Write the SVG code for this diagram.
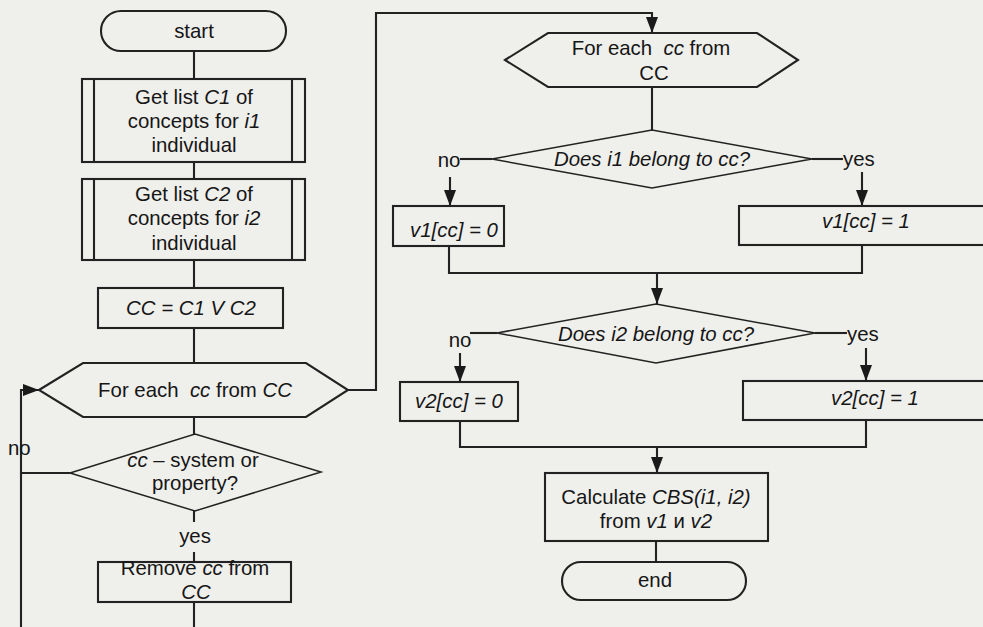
<svg xmlns="http://www.w3.org/2000/svg" width="983" height="627" viewBox="0 0 983 627">
<style>
.bg{fill:#efefec}
.box{fill:none;stroke:#222;stroke-width:2.1}
.dia{fill:none;stroke:#222;stroke-width:1.5}
.ln{fill:none;stroke:#222;stroke-width:2.1}
.arr{fill:none;stroke:#222;stroke-width:2.1;marker-end:url(#ah)}
text{font-family:"Liberation Sans",Arial,Helvetica,sans-serif;font-size:20.4px;fill:#161616;text-anchor:middle;white-space:pre}
.i{font-style:italic}
.l{text-anchor:start}
</style>
<defs>
<marker id="ah" markerUnits="userSpaceOnUse" markerWidth="16" markerHeight="14" viewBox="0 0 16 14" refX="16" refY="7" orient="auto">
<path d="M0,1 L16,7 L0,13 Z" fill="#1a1a1a"/>
</marker>
</defs>
<rect class="bg" x="0" y="0" width="983" height="627"/>

<g id="connectors">
<path class="ln" d="M194,51 V79"/>
<path class="ln" d="M194,162 V179"/>
<path class="ln" d="M194,260 V288"/>
<path class="ln" d="M194,328 V363"/>
<path class="ln" d="M194,417 V434"/>
<path class="ln" d="M194,511 V522"/>
<path class="ln" d="M194,552 V562"/>
<path class="ln" d="M194,602 V627"/>
<path class="ln" d="M70,473 H21"/>
<path class="arr" d="M21,627 V390 H39"/>
<path class="arr" d="M348,390 H376 V13 H652 V33"/>
<path class="ln" d="M652,87 V130"/>
<path class="ln" d="M460,159 H492"/>
<path class="ln" d="M812,159 H843"/>
<path class="arr" d="M450,177 V206"/>
<path class="arr" d="M862,172 V206"/>
<path class="ln" d="M449,246 V273 H862 V245"/>
<path class="arr" d="M657,273 V304"/>
<path class="ln" d="M470,333 H497"/>
<path class="ln" d="M815,333 H847"/>
<path class="arr" d="M460,353 V382"/>
<path class="arr" d="M866,348 V381"/>
<path class="ln" d="M460,421 V447 H866 V420"/>
<path class="arr" d="M657,447 V473"/>
<path class="ln" d="M656,541 V562"/>
</g>

<g id="start">
<rect class="box" x="101" y="11" width="185" height="40" rx="20"/>
<text x="194" y="38">start</text>
</g>

<g id="getC1">
<rect class="box" x="82" y="79" width="223" height="83"/>
<path class="box" d="M94,79 V162 M292,79 V162"/>
<text x="194" y="104">Get list <tspan class="i">C1</tspan> of</text>
<text x="194" y="128">concepts for <tspan class="i">i1</tspan></text>
<text x="194" y="152">individual</text>
</g>

<g id="getC2">
<rect class="box" x="82" y="179" width="223" height="81"/>
<path class="box" d="M94,179 V260 M292,179 V260"/>
<text x="194" y="201">Get list <tspan class="i">C2</tspan> of</text>
<text x="194" y="225">concepts for <tspan class="i">i2</tspan></text>
<text x="194" y="250">individual</text>
</g>

<g id="union">
<rect class="box" x="98" y="288" width="185" height="40"/>
<text class="i" x="191" y="315">CC = C1 V C2</text>
</g>

<g id="loop1">
<path class="box" d="M39,390 L83,363 H306 L348,390 L306,417 H83 Z"/>
<text x="195" y="397">For each  <tspan class="i">cc</tspan> from <tspan class="i">CC</tspan></text>
</g>

<g id="checkSys">
<path class="dia" d="M70,473 L195,434 L321,472 L195,511 Z"/>
<text x="193" y="467"><tspan class="i">cc</tspan> – system or</text>
<text x="195" y="490">property?</text>
<text class="l" x="8" y="455">no</text>
<text x="195" y="543">yes</text>
</g>

<g id="remove">
<rect class="box" x="98" y="562" width="193" height="40"/>
<text x="195" y="575">Remove <tspan class="i">cc</tspan> from</text>
<text class="i" x="196" y="599">CC</text>
</g>

<g id="loop2">
<path class="box" d="M505,60 L548,33 H757 L798,60 L757,87 H548 Z"/>
<text x="651" y="55">For each  <tspan class="i">cc</tspan> from</text>
<text x="654" y="80">CC</text>
</g>

<g id="belong1">
<path class="dia" d="M492,159 L652,130 L812,159 L652,188 Z"/>
<text class="i" x="652" y="166">Does i1 belong to cc?</text>
<text x="449" y="167">no</text>
<text class="l" x="843" y="166">yes</text>
</g>

<g id="v1zero">
<rect class="box" x="393" y="206" width="111" height="40"/>
<text class="i" x="454" y="237">v1[cc] = 0</text>
</g>

<g id="v1one">
<rect class="box" x="739" y="206" width="260" height="39"/>
<text class="i" x="866" y="228">v1[cc] = 1</text>
</g>

<g id="belong2">
<path class="dia" d="M497,333 L656,304 L815,333 L656,363 Z"/>
<text class="i" x="656" y="341">Does i2 belong to cc?</text>
<text x="460" y="347">no</text>
<text class="l" x="847" y="341">yes</text>
</g>

<g id="v2zero">
<rect class="box" x="400" y="382" width="118" height="39"/>
<text class="i" x="459" y="408">v2[cc] = 0</text>
</g>

<g id="v2one">
<rect class="box" x="743" y="381" width="260" height="39"/>
<text class="i" x="875" y="405">v2[cc] = 1</text>
</g>

<g id="calc">
<rect class="box" x="545" y="473" width="223" height="68"/>
<text x="656" y="504">Calculate <tspan class="i">CBS(i1, i2)</tspan></text>
<text x="656" y="528">from <tspan class="i">v1</tspan> и <tspan class="i">v2</tspan></text>
</g>

<g id="end">
<rect class="box" x="562" y="562" width="184" height="38" rx="19"/>
<text x="655" y="587">end</text>
</g>
</svg>
